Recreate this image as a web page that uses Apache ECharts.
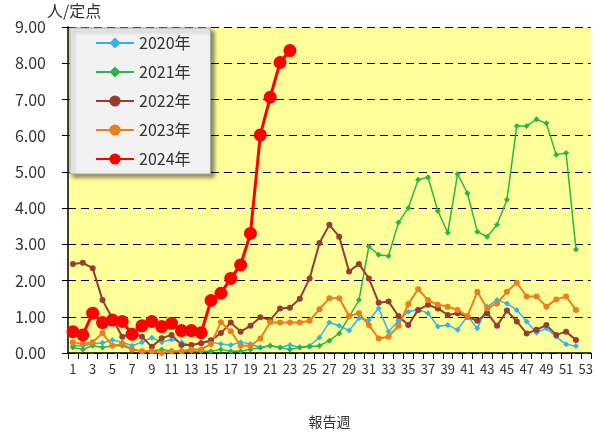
<!DOCTYPE html>
<html><head><meta charset="utf-8">
<script src="https://cdn.jsdelivr.net/npm/echarts@6/dist/echarts.min.js"></script>
<style>html,body{margin:0;padding:0;background:#fff}#c{width:596px;height:435px}</style>
</head><body><div id="c"></div>
<script>
var weeks = [];
for (var i = 1; i <= 53; i++) weeks.push(String(i));
var yTicks = ['0.00','1.00','2.00','3.00','4.00','5.00','6.00','7.00','8.00','9.00'];
var names = ['2020年','2021年','2022年','2023年','2024年'];
var y2020 = [0.2,0.2,0.25,0.28,0.36,0.3,0.2,0.3,0.42,0.3,0.37,0.3,0.2,0.3,0.3,0.25,0.22,0.3,0.25,0.15,0.2,0.15,0.22,0.16,0.2,0.43,0.84,0.75,0.62,0.96,0.91,1.23,0.59,0.9,1.14,1.2,1.1,0.73,0.77,0.64,1.02,0.68,1.28,1.46,1.37,1.19,0.87,0.56,0.68,0.45,0.24,0.19];
var y2021 = [0.15,0.1,0.2,0.15,0.2,0.2,0.1,0.05,0.05,0.1,0.05,0.05,0.05,0.05,0.05,0.1,0.05,0.05,0.1,0.15,0.2,0.15,0.1,0.15,0.17,0.2,0.34,0.54,1.0,1.46,2.94,2.71,2.68,3.6,4.0,4.78,4.85,3.92,3.32,4.94,4.41,3.35,3.21,3.54,4.23,6.27,6.27,6.45,6.34,5.47,5.52,2.86];
var y2022 = [2.46,2.49,2.34,1.46,0.95,0.45,0.55,0.45,0.17,0.41,0.5,0.22,0.22,0.27,0.35,0.55,0.84,0.59,0.75,0.99,0.91,1.23,1.25,1.5,2.06,3.04,3.54,3.21,2.25,2.46,2.06,1.39,1.42,1.02,0.77,1.19,1.33,1.23,1.05,1.1,1.0,0.89,1.1,0.75,1.17,0.87,0.54,0.64,0.77,0.5,0.59,0.36];
var y2023 = [0.3,0.25,0.3,0.55,0.2,0.25,0.1,0.05,0.05,0.0,0.05,0.05,0.1,0.1,0.25,0.85,0.6,0.2,0.2,0.4,0.85,0.84,0.84,0.84,0.89,1.21,1.51,1.51,1.02,1.1,0.77,0.4,0.45,0.75,1.35,1.76,1.46,1.33,1.28,1.19,1.02,1.69,1.23,1.37,1.69,1.94,1.56,1.56,1.28,1.48,1.56,1.19];
var y2024 = [0.59,0.5,1.1,0.84,0.91,0.87,0.52,0.75,0.87,0.73,0.82,0.62,0.62,0.56,1.45,1.65,2.06,2.43,3.3,6.02,7.06,8.02,8.35];
var colors = ['#33B4E6','#2CB34A','#963C34','#EE7D1B','#FF0000'];

function small(name, data, color, symbol, width) {
  return {name:name, type:'line', data:data, symbol:symbol, symbolSize:6, showAllSymbol:true,
    lineStyle:{color:color, width:width}, itemStyle:{color:color}, animation:false};
}
var chart = echarts.init(document.getElementById('c'));
chart.setOption({
  textStyle:{fontFamily:'Noto Sans CJK JP'},
  grid:{left:68, top:27, width:527, height:326, show:true, backgroundColor:'#FFFF99', borderWidth:0},
  legend:{orient:'vertical', left:70, top:28, padding:[7,20,7,25], itemWidth:38, itemHeight:14, itemGap:13,
    backgroundColor:'#F2F2F2', borderColor:'#A6A6A6', borderWidth:1,
    shadowColor:'rgba(0,0,0,0.45)', shadowBlur:4, shadowOffsetX:3, shadowOffsetY:3,
    textStyle:{fontSize:16, color:'#333'}, data:names},
  xAxis:{type:'category', data:weeks, boundaryGap:true,
    name:'報告週', nameLocation:'middle', nameGap:62, nameTextStyle:{fontSize:14, color:'#333'},
    axisLine:{lineStyle:{color:'#000', width:1.5}},
    axisTick:{show:true, interval:0, length:6, lineStyle:{color:'#000'}},
    axisLabel:{interval:1, fontSize:13, color:'#333', margin:10},
    splitLine:{show:false}},
  yAxis:{type:'value', min:0, max:9, interval:1,
    name:'人/定点', nameLocation:'end', nameGap:9,
    nameTextStyle:{fontSize:16, color:'#333', align:'left', verticalAlign:'middle', padding:[0,0,0,-21]},
    axisLine:{show:true, lineStyle:{color:'#000', width:1.5}},
    axisTick:{show:true, length:6, lineStyle:{color:'#000'}},
    axisLabel:{fontSize:16, color:'#333', margin:22, formatter:function(v){return yTicks[Math.round(v)];}},
    splitLine:{show:true, lineStyle:{color:'#000', type:[8,5], width:1}}},
  series:[
    small(names[0], y2020, colors[0], 'diamond', 1.5),
    small(names[1], y2021, colors[1], 'diamond', 1.5),
    small(names[2], y2022, colors[2], 'circle', 2),
    small(names[3], y2023, colors[3], 'circle', 2),
    {name:names[4], type:'line', data:y2024, symbol:'circle', symbolSize:13, z:5, showAllSymbol:true,
      lineStyle:{color:colors[4], width:3}, itemStyle:{color:colors[4]}, animation:false}
  ]
});
</script></body></html>
